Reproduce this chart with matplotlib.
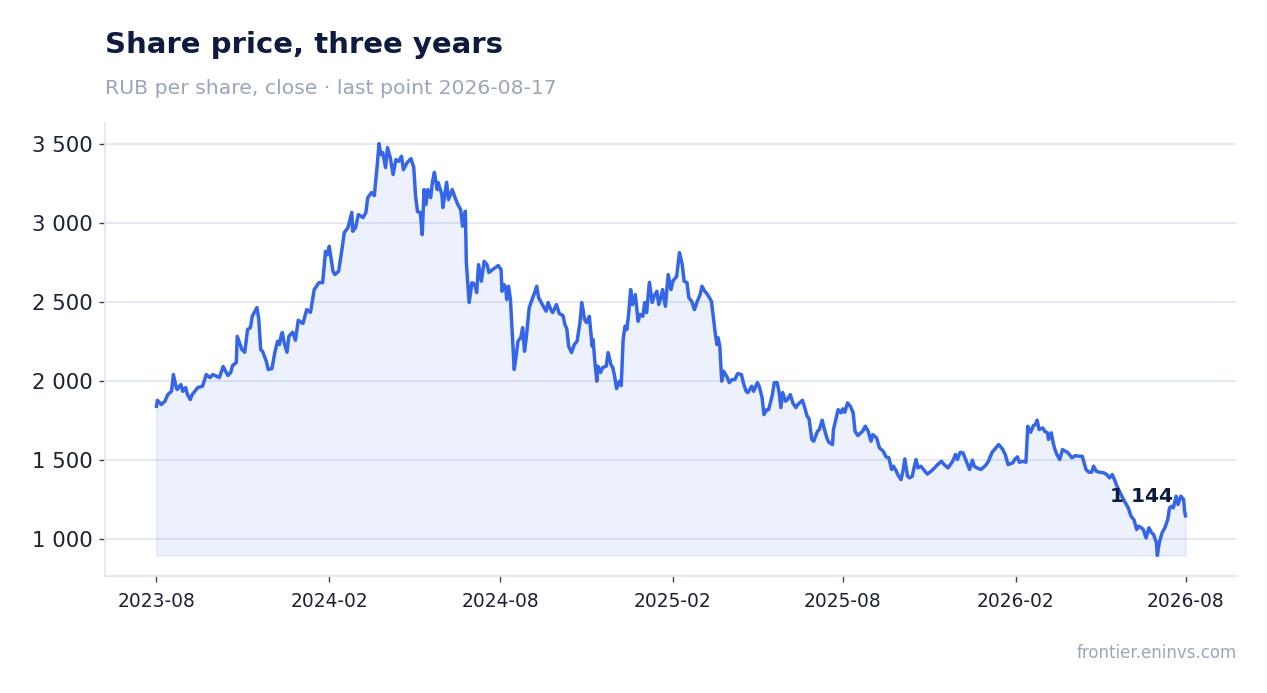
import numpy as np
import pandas as pd
import matplotlib
matplotlib.use('Agg')
import matplotlib.pyplot as plt
import matplotlib.dates as mdates
from matplotlib.ticker import FuncFormatter

START = pd.Timestamp('2023-08-17')

# days since START and close price (RUB)
days = [0, 1, 5, 9, 12, 16, 18, 21, 22, 26, 28, 31, 33, 36, 38, 44, 49, 53, 57, 60,
        64, 67, 71, 76, 79, 81, 85, 86, 91, 94, 97, 100, 102, 107, 109, 111, 113, 117, 119, 123,
        126, 129, 131, 133, 134, 136, 139, 141, 145, 148, 151, 156, 160, 164, 168, 173, 177, 180, 182, 184,
        188, 190, 194, 198, 200, 204, 208, 209, 212, 215, 220, 223, 225, 229, 232, 235, 237, 239, 241, 244,
        246, 249, 252, 255, 258, 261, 263, 267, 271, 274, 276, 278, 281, 283, 285, 287, 289, 292, 294, 296,
        299, 300, 304, 305, 309, 311, 315, 318, 321, 324, 326, 329, 330, 333, 336, 339, 341, 343, 346, 349,
        352, 354, 358, 361, 364, 367, 368, 370, 372, 373, 375, 377, 381, 383, 385, 388, 390, 392, 394, 397,
        400, 402, 405, 407, 412, 415, 417, 420, 422, 426, 429, 433, 435, 437, 439, 442, 445, 448, 451, 453,
        456, 458, 461, 464, 465, 467, 469, 470, 473, 475, 479, 481, 484, 486, 488, 490, 493, 495, 497, 499,
        501, 503, 505, 507, 510, 513, 515, 518, 520, 522, 525, 528, 530, 533, 535, 538, 539, 542, 545, 548,
        550, 554, 557, 560, 562, 565, 567, 570, 573, 576, 579, 581, 584, 587, 591, 593, 595, 597, 598, 600,
        602, 604, 608, 610, 613, 616, 619, 623, 625, 628, 630, 634, 636, 640, 642, 645, 647, 650, 652, 656,
        658, 661, 663, 665, 667, 670, 672, 675, 678, 681, 683, 688, 690, 693, 695, 698, 700, 704, 706, 709,
        711, 714, 716, 720, 721, 724, 726, 729, 731, 733, 736, 739, 742, 744, 747, 752, 755, 758, 761, 763,
        767, 770, 774, 777, 780, 783, 785, 788, 790, 793, 795, 797, 800, 802, 805, 806, 809, 811, 814, 817,
        821, 825, 827, 832, 836, 839, 843, 848, 851, 853, 856, 859, 864, 866, 869, 871, 874, 878, 883, 886,
        890, 893, 897, 901, 904, 907, 912, 914, 917, 919, 923, 926, 928, 931, 934, 936, 938, 940, 944, 946,
        949, 950, 953, 955, 957, 959, 962, 965, 968, 971, 975, 979, 982, 986, 988, 990, 993, 996, 998, 1001,
        1004, 1009, 1012, 1015, 1018, 1021, 1023, 1029, 1032, 1035, 1038, 1041, 1044, 1046, 1049, 1051, 1054, 1057, 1060, 1062,
        1065, 1066, 1068, 1071, 1074, 1077, 1079, 1081, 1083, 1086, 1088, 1091, 1094, 1095, 1096]

close = [1837, 1875, 1848, 1869, 1911, 1932, 2038, 1956, 1943, 1975, 1932, 1956, 1911, 1880, 1911, 1956, 1964, 2038, 2019, 2038,
         2027, 2019, 2089, 2032, 2051, 2095, 2114, 2280, 2196, 2179, 2323, 2335, 2407, 2462, 2386, 2196, 2185, 2122, 2070, 2076,
         2177, 2249, 2228, 2291, 2304, 2240, 2179, 2280, 2306, 2255, 2382, 2361, 2449, 2432, 2576, 2620, 2620, 2818, 2797, 2850,
         2692, 2671, 2692, 2850, 2937, 2968, 3065, 2945, 2968, 3051, 3032, 3063, 3158, 3190, 3171, 3356, 3500, 3430, 3443, 3348,
         3475, 3411, 3304, 3399, 3388, 3420, 3335, 3380, 3405, 3350, 3165, 3070, 3063, 2924, 3209, 3114, 3209, 3158, 3261, 3318,
         3209, 3253, 3177, 3095, 3255, 3146, 3209, 3158, 3114, 3082, 2977, 3072, 2747, 2494, 2620, 2608, 2557, 2734, 2629, 2755,
         2734, 2684, 2703, 2715, 2728, 2703, 2565, 2608, 2589, 2513, 2597, 2513, 2070, 2154, 2249, 2272, 2335, 2185, 2280, 2462,
         2513, 2544, 2597, 2525, 2470, 2439, 2494, 2449, 2430, 2481, 2424, 2411, 2354, 2329, 2217, 2177, 2228, 2249, 2367, 2494,
         2386, 2367, 2407, 2217, 2259, 2114, 1996, 2091, 2051, 2082, 2091, 2177, 2101, 2082, 2027, 1949, 1996, 1968, 2259, 2344,
         2323, 2430, 2576, 2481, 2544, 2375, 2418, 2407, 2494, 2430, 2622, 2494, 2534, 2565, 2481, 2544, 2576, 2470, 2671, 2576,
         2629, 2660, 2810, 2734, 2629, 2620, 2525, 2502, 2449, 2502, 2544, 2597, 2565, 2544, 2502, 2407, 2304, 2228, 2272, 2217,
         1996, 2059, 2019, 1987, 2006, 2006, 2044, 2038, 1987, 1932, 1924, 1964, 1932, 1987, 1964, 1892, 1785, 1816, 1816, 1911,
         1987, 1987, 1932, 1829, 1924, 1869, 1880, 1911, 1855, 1829, 1848, 1875, 1837, 1774, 1759, 1627, 1616, 1679, 1690, 1749,
         1700, 1637, 1610, 1595, 1690, 1764, 1816, 1796, 1821, 1799, 1859, 1837, 1796, 1679, 1652, 1679, 1711, 1679, 1616, 1658,
         1637, 1574, 1553, 1517, 1511, 1437, 1458, 1426, 1399, 1373, 1426, 1504, 1394, 1384, 1394, 1426, 1500, 1447, 1458, 1437,
         1408, 1426, 1437, 1468, 1489, 1468, 1447, 1489, 1532, 1500, 1546, 1542, 1468, 1437, 1496, 1458, 1447, 1437, 1462, 1489,
         1546, 1567, 1595, 1567, 1532, 1468, 1479, 1500, 1517, 1483, 1489, 1483, 1711, 1673, 1715, 1722, 1749, 1690, 1700, 1679,
         1669, 1627, 1669, 1606, 1563, 1532, 1500, 1563, 1553, 1542, 1511, 1525, 1521, 1521, 1479, 1437, 1420, 1420, 1458, 1426,
         1420, 1416, 1405, 1384, 1405, 1363, 1331, 1258, 1226, 1194, 1141, 1120, 1057, 1078, 1068, 1057, 1004, 1068, 1036, 1025,
         973, 893, 973, 1036, 1068, 1120, 1194, 1204, 1194, 1268, 1215, 1268, 1247, 1173, 1144]

yticks = [1000, 1500, 2000, 2500, 3000, 3500]

LINE = '#3566E8'
NAVY = '#0E1A40'
MUTED = '#9AA6B9'
GRID = '#E3E7F0'

dates = START + pd.to_timedelta(days, unit='D')
close = np.array(close, dtype=float)

fig = plt.figure(figsize=(12.67, 6.93), dpi=100)
ax = fig.add_axes([0.0829, 0.1688, 0.8934, 0.6537])

ax.fill_between(dates, close, close.min(), facecolor=(0.21, 0.40, 0.91, 0.085),
                edgecolor=(0.21, 0.40, 0.91, 0.12), linewidth=1)
ax.plot(dates, close, color=LINE, linewidth=2.5, solid_joinstyle='round', zorder=3)

ax.annotate(f'{close[-1]:,.0f}'.replace(',', ' '), xy=(dates[-1], close[-1]),
            xytext=(-9, 10), textcoords='offset points', ha='right', va='baseline',
            fontsize=14.5, fontweight='bold', color=NAVY, zorder=4)

ax.set_yticks(yticks)
ax.yaxis.set_major_formatter(FuncFormatter(lambda v, p: f'{v:,.0f}'.replace(',', ' ')))
ax.margins(x=0.05, y=0.05)

xt = pd.date_range(START, periods=7, freq=pd.DateOffset(months=6))
ax.set_xticks(xt)
ax.xaxis.set_major_formatter(mdates.DateFormatter('%Y-%m'))

ax.grid(axis='y', color=GRID, linewidth=1.3)
ax.set_axisbelow(True)
for s in ['top', 'right']:
    ax.spines[s].set_visible(False)
for s in ['left', 'bottom']:
    ax.spines[s].set_color(GRID)
    ax.spines[s].set_linewidth(1.3)

ax.tick_params(axis='y', labelsize=15.3, colors='#3a4255', labelcolor='#1A2233',
               length=4.5, width=1, pad=4)
ax.tick_params(axis='x', labelsize=13.4, colors='#3a4255', labelcolor='#1A2233',
               length=4.5, width=1, pad=7)

fig.text(0.0829, 0.9235, 'Share price, three years', fontsize=21, fontweight='bold',
         color=NAVY, va='baseline')
fig.text(0.0829, 0.8644, 'RUB per share, close · last point 2026-08-17', fontsize=14.7,
         color=MUTED, va='baseline')
fig.text(0.9763, 0.0505, 'frontier.eninvs.com', fontsize=12, color=MUTED,
         ha='right', va='baseline')

fig.savefig('out.png', dpi=100)
